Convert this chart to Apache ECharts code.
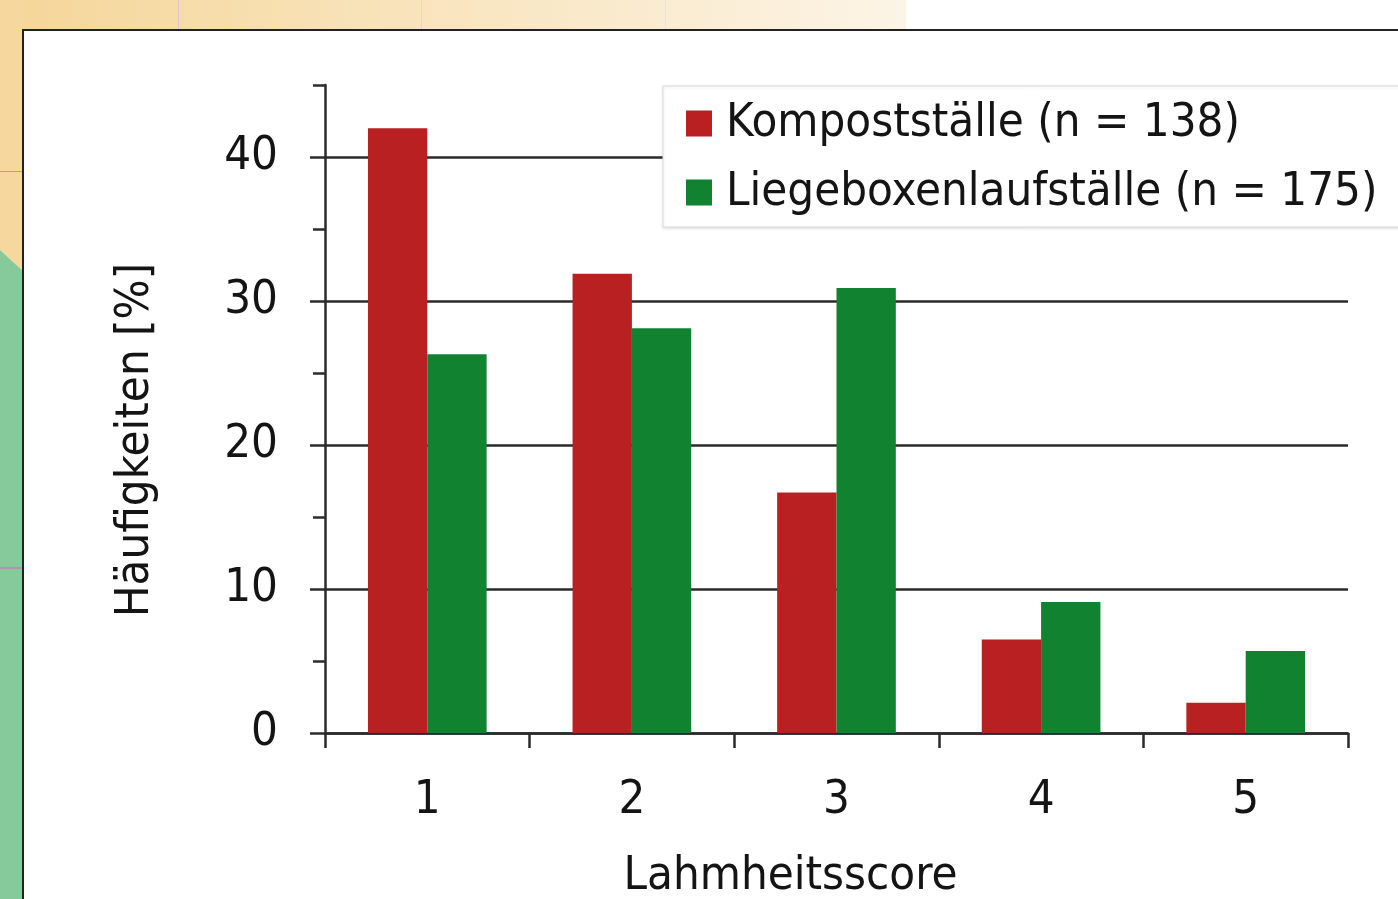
<!DOCTYPE html>
<html>
<head>
<meta charset="utf-8">
<script src="https://cdn.jsdelivr.net/npm/echarts@6/dist/echarts.min.js"></script>
<style>
html,body{margin:0;padding:0;background:#fff;}
#c{width:1398px;height:899px;}
</style>
</head>
<body>
<div id="c"></div>
<script>
const categories = ['1', '2', '3', '4', '5'];
const seriesNames = ['Kompostställe (n = 138)', 'Liegeboxenlaufställe (n = 175)'];
const kompost = [42.0, 31.9, 16.7, 6.5, 2.1];
const liegebox = [26.3, 28.1, 30.9, 9.1, 5.7];
const xAxisTitle = 'Lahmheitsscore';
const yAxisTitle = 'Häufigkeiten [%]';

const FONT = '"DejaVu Sans Condensed", "DejaVu Sans", sans-serif';
const TXT = '#141414';
const AX = '#2b2b2b';
const RED = '#b92022';
const GREEN = '#108230';

const chart = echarts.init(document.getElementById('c'), null, {renderer: 'canvas'});
chart.setOption({
  animation: false,
  backgroundColor: '#ffffff',
  textStyle: {fontFamily: FONT},
  graphic: [
    {type: 'rect', z: -100, silent: true, shape: {x: 0, y: 0, width: 906, height: 30},
     style: {fill: new echarts.graphic.LinearGradient(0, 0, 1, 0, [{offset: 0, color: '#f5d699'}, {offset: 1, color: '#fcf4e6'}])}},
    {type: 'rect', z: -99, silent: true, shape: {x: 178, y: 0, width: 1, height: 30}, style: {fill: '#d9c9cf'}},
    {type: 'rect', z: -99, silent: true, shape: {x: 421, y: 0, width: 1, height: 30}, style: {fill: '#e2d6da'}},
    {type: 'rect', z: -99, silent: true, shape: {x: 665, y: 0, width: 1, height: 30}, style: {fill: '#ebe2e2'}},
    {type: 'polygon', z: -100, silent: true, shape: {points: [[0, 0], [23, 0], [23, 271], [0, 250]]}, style: {fill: '#f6d89f'}},
    {type: 'polygon', z: -100, silent: true, shape: {points: [[0, 250], [23, 271], [23, 899], [0, 899]]}, style: {fill: '#86c99b'}},
    {type: 'rect', z: -99, silent: true, shape: {x: 0, y: 171, width: 22, height: 1}, style: {fill: '#a99cc0'}},
    {type: 'rect', z: -99, silent: true, shape: {x: 0, y: 567, width: 22, height: 2}, style: {fill: '#b391b4'}},
    {type: 'rect', z: -98, silent: true, shape: {x: 23, y: 30, width: 1400, height: 900},
     style: {fill: '#ffffff', stroke: '#222222', lineWidth: 2}}
  ],
  legend: {
    orient: 'vertical',
    left: 663,
    top: 86,
    backgroundColor: '#ffffff',
    borderColor: '#dcdcdc',
    borderWidth: 1,
    shadowColor: 'rgba(0,0,0,0.12)',
    shadowBlur: 3,
    shadowOffsetY: 1,
    padding: [14, 30, 11, 23],
    itemWidth: 26,
    itemHeight: 26,
    itemGap: 22,
    icon: 'rect',
    selectedMode: false,
    textStyle: {fontFamily: FONT, fontSize: 47, color: TXT, padding: [4, 0, 0, 9]},
    data: seriesNames
  },
  grid: {left: 325, right: 50, top: 85, bottom: 166, containLabel: false, outerBoundsMode: 'none'},
  xAxis: {
    type: 'category',
    data: categories,
    boundaryGap: true,
    name: xAxisTitle,
    nameLocation: 'middle',
    nameGap: 120,
    nameTextStyle: {fontFamily: FONT, fontSize: 47, color: TXT, padding: [0, 92, 0, 0]},
    axisLine: {lineStyle: {color: AX, width: 2.5}},
    axisTick: {show: true, length: 15, alignWithLabel: false, lineStyle: {color: AX, width: 2.5}},
    axisLabel: {fontFamily: FONT, fontSize: 47, color: TXT, margin: 44},
    splitLine: {show: false}
  },
  yAxis: [
    {
      type: 'value',
      min: 0, max: 45, interval: 10,
      name: yAxisTitle,
      nameLocation: 'middle',
      nameGap: 166,
      nameRotate: 90,
      nameTextStyle: {fontFamily: FONT, fontSize: 47, color: TXT, padding: [0, 62, 0, 0]},
      axisLine: {show: true, lineStyle: {color: AX, width: 2.5}},
      axisTick: {show: true, length: 15, lineStyle: {color: AX, width: 2.5}},
      axisLabel: {fontFamily: FONT, fontSize: 47, color: TXT, margin: 47, showMaxLabel: false,
                  padding: [8, 0, 0, 0],
                  formatter: v => (v % 10 === 0 ? String(v) : '')},
      splitLine: {show: true, showMaxLine: false, lineStyle: {color: AX, width: 2.5}}
    },
    {
      type: 'value',
      min: 0, max: 45, interval: 5,
      position: 'left',
      axisLine: {show: false},
      axisTick: {show: true, length: 12, lineStyle: {color: AX, width: 2.5}},
      axisLabel: {show: false},
      splitLine: {show: false}
    }
  ],
  series: [
    {name: seriesNames[0], type: 'bar', data: kompost, yAxisIndex: 0, barGap: '0%', barCategoryGap: '42%',
     itemStyle: {color: RED}, z: 3},
    {name: seriesNames[1], type: 'bar', data: liegebox, yAxisIndex: 0, barGap: '0%', barCategoryGap: '42%',
     itemStyle: {color: GREEN}, z: 3}
  ]
});
</script>
</body>
</html>
